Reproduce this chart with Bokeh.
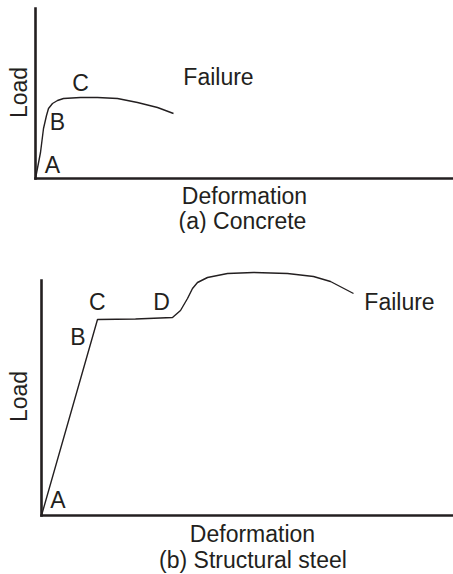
import math
from bokeh.plotting import figure
from bokeh.layouts import column
from bokeh.models import Range1d, Label, FixedTicker
from bokeh.embed import file_html
from bokeh.resources import INLINE

# ---- data (a) Concrete ----
concrete_deformation = [0, 5, 8, 11, 13, 17, 22, 28, 45, 62, 82, 102, 122, 138]
concrete_load = [0, 26, 50, 63, 70, 75, 78, 80, 81, 81, 80, 76, 71, 65]
concrete_points = ["A", "B", "C", "Failure"]

# ---- data (b) Structural steel ----
steel_deformation = [0, 56, 94, 131, 139, 146, 151, 156, 166, 186, 212, 246, 272, 289, 312]
steel_load = [0, 196, 196.5, 198, 205, 217, 227, 233, 238, 242, 243, 242, 239, 234, 222]
steel_points = ["A", "B", "C", "D", "Failure"]

INK = "#231f20"
FONT = "Liberation Sans"
FS = "23px"


def make_fig(width, height, xr, yr, xbound, ybound):
    p = figure(width=width, height=height, x_range=Range1d(*xr), y_range=Range1d(*yr),
               output_backend="svg", toolbar_location=None,
               min_border_left=0, min_border_bottom=0,
               min_border_top=0, min_border_right=0)
    p.outline_line_color = None
    p.grid.visible = False
    p.background_fill_color = "white"
    p.border_fill_color = "white"
    for ax in (p.xaxis[0], p.yaxis[0]):
        ax.ticker = FixedTicker(ticks=[])
        ax.major_tick_line_color = None
        ax.minor_tick_line_color = None
        ax.major_tick_out = 0
        ax.major_tick_in = 0
        ax.major_label_standoff = 0
        ax.major_label_text_font_size = "0px"
        ax.axis_line_color = INK
        ax.axis_line_width = 2.6
        ax.axis_line_cap = "square"
        ax.fixed_location = 0
    p.xaxis[0].bounds = xbound
    p.yaxis[0].bounds = ybound
    return p


def add_label(p, x, y, text, angle=0.0):
    p.add_layout(Label(x=x, y=y, text=text, text_font=FONT, text_font_size=FS,
                       text_color=INK, text_align="center", text_baseline="middle",
                       angle=angle))


# ---- figure (a) ----
p1 = make_fig(453, 233, (-35, 418), (-55, 178), (0, 418), (0, 170))
p1.line(concrete_deformation, concrete_load, line_color=INK, line_width=1.4)
for name, (x, y) in zip(concrete_points, [(17, 14), (22, 57), (45, 96), (183, 102)]):
    add_label(p1, x, y, name)
add_label(p1, 209, -17, "Deformation")
add_label(p1, 207, -42, "(a) Concrete")
add_label(p1, -17, 86, "Load", angle=math.pi / 2)

# ---- figure (b) ----
p2 = make_fig(453, 341, (-41, 412), (-59, 282), (0, 412), (0, 235))
p2.line(steel_deformation, steel_load, line_color=INK, line_width=1.4)
for name, (x, y) in zip(steel_points, [(16.5, 16), (36.5, 179), (55.7, 214), (120, 214), (358, 214)]):
    add_label(p2, x, y, name)
add_label(p2, 211, -18, "Deformation")
add_label(p2, 211.5, -44, "(b) Structural steel")
add_label(p2, -23, 119, "Load", angle=math.pi / 2)

layout = column(p1, p2, spacing=0)
open("out.html", "w").write(file_html(layout, INLINE))
